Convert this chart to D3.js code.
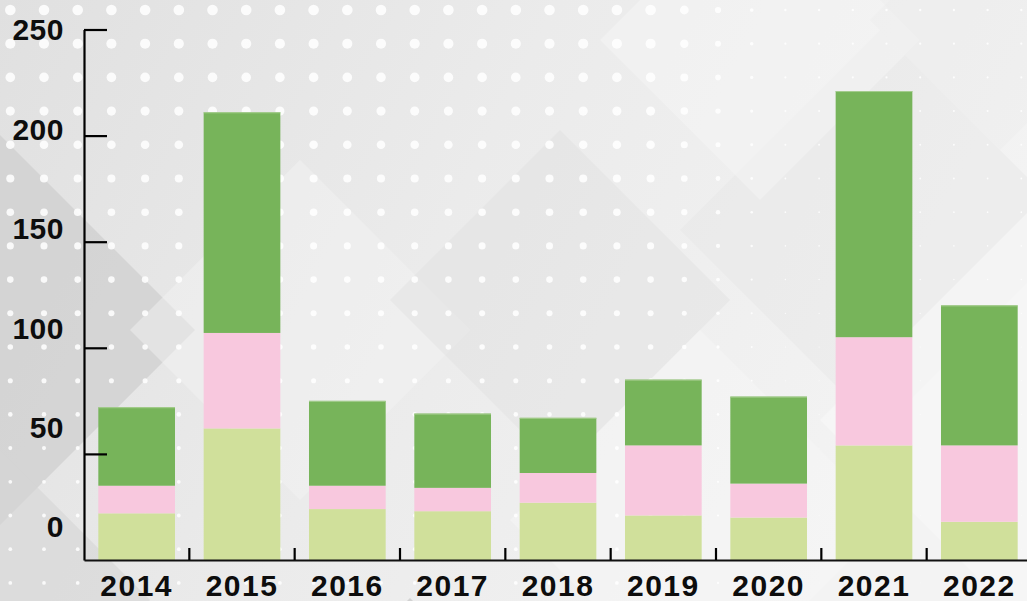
<!DOCTYPE html>
<html>
<head>
<meta charset="utf-8">
<script src="https://cdn.jsdelivr.net/npm/d3@7"></script>
<style>
  html, body { margin: 0; padding: 0; background: #e8e8e8; }
  svg { display: block; }
  text { font-family: "Liberation Sans", Arial, sans-serif; font-weight: 700; fill: #0d0d0d; }
</style>
</head>
<body>
<svg id="chart" width="1027" height="601"></svg>
<script>
// ---- data ----
const years = ["2014", "2015", "2016", "2017", "2018", "2019", "2020", "2021", "2022"];
const baseValues = [22, 62, 24, 23, 27, 21, 20, 54, 18];   // light green (bottom)
const midValues  = [13, 45, 11, 11, 14, 33, 16, 51, 36];   // pink (middle)
const topValues  = [37, 104, 40, 35, 26, 31, 41, 116, 66]; // green (top)
const yTicks = [0, 50, 100, 150, 200, 250];

const seriesKeys = ["base", "mid", "top"];
const seriesColors = ["#d0e09b", "#f8c8de", "#77b45a"];

const W = 1027, H = 601;
const svg = d3.select("#chart");

// ---- backdrop: soft grey gradient, faceted diamonds and a dot grid ----
const defs = svg.append("defs");
const bg = defs.append("linearGradient").attr("id", "bgGrad")
  .attr("x1", "0").attr("y1", "0").attr("x2", "1").attr("y2", "0.3");
bg.append("stop").attr("offset", "0").attr("stop-color", "#e0e0e0");
bg.append("stop").attr("offset", "0.5").attr("stop-color", "#ebebeb");
bg.append("stop").attr("offset", "1").attr("stop-color", "#f3f3f3");
svg.append("rect").attr("width", W).attr("height", H).attr("fill", "url(#bgGrad)");

function diamond(cx, cy, r) {
  return [[cx + r, cy], [cx, cy - r], [cx - r, cy], [cx, cy + r]].map(p => p.join(",")).join(" ");
}
const facets = [
  { cx: 0,    cy: 330, r: 195, fill: "#cfcfcf", op: 0.75 },
  { cx: 410,  cy: 724, r: 126, fill: "#c8c8c8", op: 0.75 },
  { cx: 0,    cy: 600, r: 150, fill: "#d6d6d6", op: 0.6 },
  { cx: 300,  cy: 330, r: 170, fill: "#f4f4f4", op: 0.45 },
  { cx: 560,  cy: 300, r: 170, fill: "#dedede", op: 0.35 },
  { cx: 700,  cy: 520, r: 190, fill: "#f6f6f6", op: 0.55 },
  { cx: 880,  cy: 230, r: 200, fill: "#e2e2e2", op: 0.3 },
  { cx: 1060, cy: 420, r: 240, fill: "#f8f8f8", op: 0.6 },
  { cx: 760,  cy: 40,  r: 160, fill: "#f5f5f5", op: 0.5 },
  { cx: 1000, cy: 20,  r: 130, fill: "#ececec", op: 0.4 }
];
svg.append("g").selectAll("polygon").data(facets).join("polygon")
  .attr("points", d => diamond(d.cx, d.cy, d.r))
  .attr("fill", d => d.fill).attr("opacity", d => d.op);

const dotStep = 33.7;
const dots = [];
for (let yy = 10; yy < H + 5; yy += dotStep) {
  for (let xx = 10.3; xx < W + 5; xx += dotStep) {
    const fx = xx < 660 ? 1 : Math.max(0.22, 1 - (xx - 660) / 140);
    const fy = Math.max(0.35, 1 - yy / 720);
    dots.push({ x: xx, y: yy, r: 5.4 * fx * fy });
  }
}
svg.append("g").selectAll("circle").data(dots).join("circle")
  .attr("cx", d => d.x).attr("cy", d => d.y).attr("r", d => d.r)
  .attr("fill", "#ffffff").attr("opacity", 0.85);

// ---- scales ----
const x = d3.scaleBand().domain(years).range([84, 1032])
  .paddingInner(0.272).paddingOuter(0.136);
const y = d3.scaleLinear().domain([0, 250]).range([560, 29.5]);
// tick labels sit on their own slightly compressed track
const labelY = d3.scaleLinear().domain([0, 250]).range([526, 29]);

// ---- stacked bars ----
const rows = years.map((yr, i) => ({ year: yr, base: baseValues[i], mid: midValues[i], top: topValues[i] }));
const stacked = d3.stack().keys(seriesKeys)(rows);

svg.append("g").selectAll("g").data(stacked).join("g")
  .attr("fill", (d, i) => seriesColors[i])
  .selectAll("rect").data(d => d).join("rect")
  .attr("x", d => x(d.data.year))
  .attr("y", d => y(d[1]))
  .attr("width", x.bandwidth())
  .attr("height", d => y(d[0]) - y(d[1]));

// thin light rim along each bar's top edge
svg.append("g").selectAll("line").data(rows).join("line")
  .attr("x1", d => x(d.year)).attr("x2", d => x(d.year) + x.bandwidth())
  .attr("y1", d => y(d.base + d.mid + d.top) + 0.5).attr("y2", d => y(d.base + d.mid + d.top) + 0.5)
  .attr("stroke", "#a6cd8f").attr("stroke-width", 1);

// ---- y axis ----
const yAxis = svg.append("g").attr("transform", "translate(84,0)")
  .call(d3.axisLeft(y).tickValues(yTicks).tickSizeInner(-23).tickSizeOuter(0).tickPadding(20));
yAxis.select(".domain").attr("stroke", "#000").attr("stroke-width", 2.2);
yAxis.selectAll(".tick line").attr("stroke", "#000").attr("stroke-width", 2.2);
yAxis.selectAll(".tick").filter(d => d === 0).select("line").remove();
yAxis.selectAll(".tick text")
  .attr("y", d => labelY(d) - y(d))
  .attr("dy", "0.36em")
  .style("font-size", "30px")
  .style("letter-spacing", "0.5px")
  .style("font-family", "'Liberation Sans', Arial, sans-serif")
  .style("font-weight", "700")
  .attr("fill", "#0d0d0d");

// ---- x axis ----
const xAxis = svg.append("g").attr("transform", "translate(0,560)")
  .call(d3.axisBottom(x).tickSize(0).tickPadding(15));
xAxis.select(".domain").attr("stroke", "#111").attr("stroke-width", 2.2);
xAxis.selectAll(".tick text")
  .style("font-size", "30px")
  .style("letter-spacing", "1.5px")
  .style("font-family", "'Liberation Sans', Arial, sans-serif")
  .style("font-weight", "700")
  .attr("fill", "#0d0d0d");

// category dividers rising from the baseline
const gap = x.step() - x.bandwidth();
xAxis.append("g").selectAll("line").data(years.slice(1)).join("line")
  .attr("x1", d => x(d) - gap / 2).attr("x2", d => x(d) - gap / 2)
  .attr("y1", 0).attr("y2", -12)
  .attr("stroke", "#000").attr("stroke-width", 2.2);
</script>
</body>
</html>
